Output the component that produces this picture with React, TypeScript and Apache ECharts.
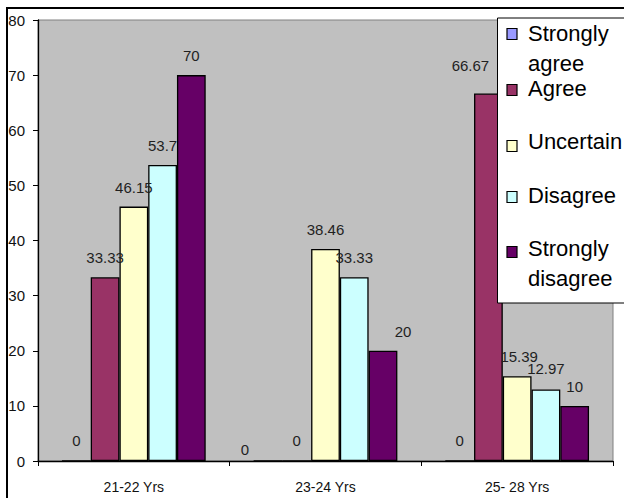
import React, { useEffect, useRef } from "react";
import * as echarts from "echarts";

// Age groups on the category axis
const categories = ["21-22 Yrs", "23-24 Yrs", "25- 28 Yrs"];

// Response shares (%) per age group
const seriesNames = ["Strongly agree", "Agree", "Uncertain", "Disagree", "Strongly disagree"];
const stronglyAgree = [0, 0, 0];
const agree = [33.33, 0, 66.67];
const uncertain = [46.15, 38.46, 15.39];
const disagree = [53.7, 33.33, 12.97];
const stronglyDisagree = [70, 20, 10];

const yTicks = { min: 0, max: 80, interval: 10 };

const seriesValues = [stronglyAgree, agree, uncertain, disagree, stronglyDisagree];
const seriesColors = ["#9999FF", "#993366", "#FFFFCC", "#CCFFFF", "#660066"];

// Hand-placed value labels: [series][category] -> [dx, dy]
const labelShifts: Record<number, Record<number, [number, number]>> = {
  0: { 1: [-23, 9] },
  1: { 2: [-18, -8] },
  2: { 2: [2, 0] },
  3: { 2: [0, -2] },
  4: { 1: [20, 0] },
};

// Legend text lines (two-line entries wrap like the original key)
const legendLines = [
  ["Strongly", "agree"],
  ["Agree"],
  ["Uncertain"],
  ["Disagree"],
  ["Strongly", "disagree"],
];
const legendSwatchCenters = [34, 90, 146, 197, 252];
const legendTextCenters = [33, 88, 141, 195, 248];

const FONT = "'Liberation Sans', Arial, Helvetica, sans-serif";

export default function App() {
  const ref = useRef<HTMLDivElement>(null);

  useEffect(() => {
    if (!ref.current) return;
    const chart = echarts.init(ref.current, null, { renderer: "svg" });

    const series = seriesValues.map((vals, si) => ({
      name: seriesNames[si],
      type: "bar",
      barGap: "0%",
      barCategoryGap: "25%",
      itemStyle: { color: seriesColors[si], borderColor: "#000", borderWidth: 1.3 },
      label: {
        show: true,
        position: "top",
        distance: 12,
        color: "#1f1f1f",
        fontSize: 15,
        fontFamily: FONT,
        formatter: (p: any) => String(p.value),
      },
      data: vals.map((v, ci) => {
        const shift = labelShifts[si]?.[ci];
        return shift ? { value: v, label: { offset: shift } } : { value: v };
      }),
      z: 2,
    }));

    const legendGraphics: any[] = [
      {
        type: "rect",
        z: 100,
        shape: { x: 497.5, y: 18, width: 200, height: 285 },
        style: { fill: "#fff", stroke: "#000", lineWidth: 1 },
      },
    ];
    legendLines.forEach((lines, i) => {
      legendGraphics.push({
        type: "rect",
        z: 101,
        shape: { x: 507, y: legendSwatchCenters[i] - 5.5, width: 10, height: 11 },
        style: { fill: seriesColors[i], stroke: "#000", lineWidth: 1.2 },
      });
      legendGraphics.push({
        type: "text",
        z: 101,
        x: 528,
        y: legendTextCenters[i] - 15,
        style: {
          text: lines.join("\n"),
          fill: "#000",
          fontSize: 22,
          fontFamily: FONT,
          lineHeight: 30,
          verticalAlign: "top",
          align: "left",
        },
      });
    });

    chart.setOption({
      animation: false,
      backgroundColor: "#fff",
      grid: {
        left: 38,
        top: 20,
        right: 11,
        bottom: 37,
        show: true,
        backgroundColor: "#C0C0C0",
        borderColor: "#808080",
        borderWidth: 1,
      },
      xAxis: {
        type: "category",
        data: categories,
        boundaryGap: true,
        axisLine: { lineStyle: { color: "#000", width: 1.3 } },
        axisTick: { show: true, length: 5, lineStyle: { color: "#000" } },
        axisLabel: { color: "#111", fontSize: 14, fontFamily: FONT, margin: 19 },
      },
      yAxis: {
        type: "value",
        min: yTicks.min,
        max: yTicks.max,
        interval: yTicks.interval,
        axisLine: { show: true, lineStyle: { color: "#000", width: 1.3 } },
        axisTick: { show: true, length: 5, lineStyle: { color: "#000" } },
        splitLine: { show: false },
        axisLabel: { color: "#111", fontSize: 15, fontFamily: FONT, margin: 13 },
      },
      series,
      graphic: [
        {
          type: "rect",
          z: 120,
          silent: true,
          shape: { x: 7, y: 8, width: 800, height: 800 },
          style: { fill: "none", stroke: "#000", lineWidth: 2 },
        },
        ...legendGraphics,
      ],
    });

    return () => chart.dispose();
  }, []);

  return (
    <div
      ref={ref}
      style={{ position: "absolute", left: 0, top: 0, width: 624, height: 498 }}
    />
  );
}
